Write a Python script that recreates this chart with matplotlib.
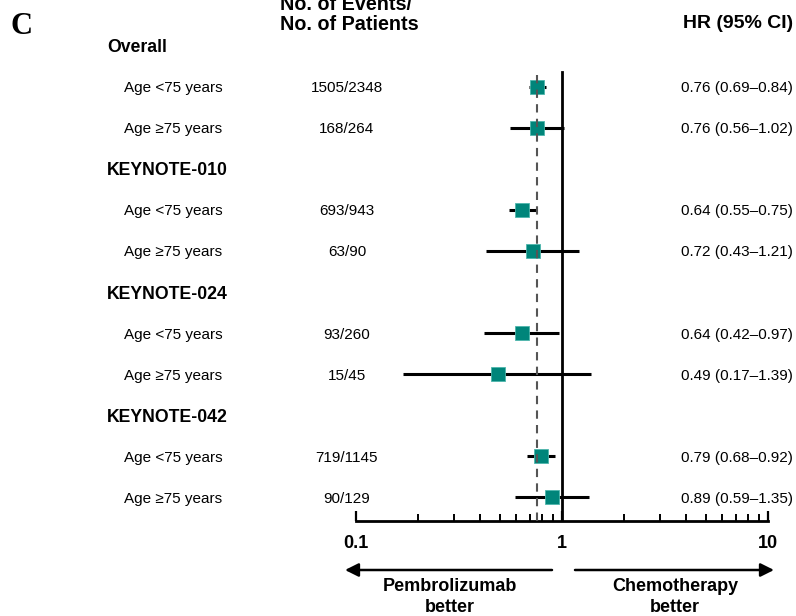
import numpy as np
import matplotlib
matplotlib.use("Agg")
import matplotlib.pyplot as plt
from matplotlib import transforms

plt.rcParams['font.family'] = ['Liberation Sans', 'DejaVu Sans']

# datos
groups = ['Overall', 'KEYNOTE-010', 'KEYNOTE-024', 'KEYNOTE-042']
subgroups = ['Age <75 years', 'Age \u226575 years']
events = ['1505/2348', '168/264', '693/943', '63/90', '93/260', '15/45', '719/1145', '90/129']
hr = [0.76, 0.76, 0.64, 0.72, 0.64, 0.49, 0.79, 0.89]
ci_low = [0.69, 0.56, 0.55, 0.43, 0.42, 0.17, 0.68, 0.59]
ci_high = [0.84, 1.02, 0.75, 1.21, 0.97, 1.39, 0.92, 1.35]
overall_hr = 0.76

W, H = 796, 616
teal = '#00857A'

fig = plt.figure(figsize=(W/100, H/100), dpi=100)
ax = fig.add_axes([356/W, (H-521)/H, (768-356)/W, (521-40)/H])

# filas: cabecera de grupo + 2 subgrupos
y_head = [3*g for g in range(len(groups))]
y_rows = []
for g in range(len(groups)):
    y_rows += [3*g + 1, 3*g + 2]
y_rows = np.array(y_rows)

ax.set_xscale('log')
ax.set_xlim(0.1, 10)
ax.set_ylim(11.585, -0.146)

ax.hlines(y_rows, ci_low, ci_high, color='black', lw=2.2, zorder=2)
ax.plot(hr, y_rows, 's', color=teal, ms=9.5, mec='#4DB6AC', mew=0.6, zorder=3)
ax.plot([1, 1], [0.634, 11.585], color='black', lw=2, zorder=2)
ax.plot([overall_hr, overall_hr], [0.7, 11.585], color='#555555', lw=1.5,
        dashes=(4, 3), zorder=4)

for s in ['top', 'right', 'left']:
    ax.spines[s].set_visible(False)
ax.spines['bottom'].set_linewidth(2)
ax.set_yticks([])
ax.set_xticks([0.1, 1, 10])
ax.set_xticklabels(['0.1', '1', '10'], fontsize=13, fontweight='bold')
ax.set_xticks([m*d for d in [0.1, 1] for m in range(2, 10)], minor=True)
ax.xaxis.set_minor_formatter(plt.NullFormatter())
ax.tick_params(axis='x', which='major', direction='in', length=7, width=1.6, pad=10)
ax.tick_params(axis='x', which='minor', direction='in', length=5, width=1.4)

trans = transforms.blended_transform_factory(fig.transFigure, ax.transData)
for g, name in enumerate(groups):
    ax.text(107/W, y_head[g], name, transform=trans, fontsize=12.7,
            fontweight='bold', va='center_baseline', ha='left', clip_on=False)
for i, y in enumerate(y_rows):
    ax.text(124/W, y, subgroups[i % 2], transform=trans, fontsize=11,
            va='center_baseline', ha='left', clip_on=False)
    ax.text(347/W, y, events[i], transform=trans, fontsize=11,
            va='center_baseline', ha='center', clip_on=False)
    txt = '%.2f (%.2f\u2013%.2f)' % (hr[i], ci_low[i], ci_high[i])
    ax.text(793/W, y, txt, transform=trans, fontsize=11,
            va='center_baseline', ha='right', clip_on=False)

fig.text(10/W, 1-27/H, 'C', family='Liberation Serif', fontweight='bold',
         fontsize=22, va='center', ha='left')
fig.text(280/W, 1-3/H, 'No. of Events/', fontsize=14.2, fontweight='bold',
         va='center_baseline', ha='left')
fig.text(280/W, 1-22/H, 'No. of Patients', fontsize=14.2, fontweight='bold',
         va='center_baseline', ha='left')
fig.text(793/W, 1-21/H, 'HR (95% CI)', fontsize=14, fontweight='bold',
         va='center_baseline', ha='right')

# flechas
ya = 1 - 570/H
arr = dict(arrowstyle='-|>', lw=1.8, color='black', mutation_scale=20, shrinkA=0, shrinkB=0)
ax.annotate('', xy=(345/W, ya), xytext=(552/W, ya), xycoords='figure fraction',
            textcoords='figure fraction', arrowprops=arr)
ax.annotate('', xy=(774/W, ya), xytext=(575/W, ya), xycoords='figure fraction',
            textcoords='figure fraction', arrowprops=arr)
fig.text(450/W, 1-597/H, 'Pembrolizumab\nbetter', fontsize=13, fontweight='bold',
         va='center', ha='center', linespacing=1.25)
fig.text(675/W, 1-597/H, 'Chemotherapy\nbetter', fontsize=13, fontweight='bold',
         va='center', ha='center', linespacing=1.25)

plt.savefig('out.png', dpi=100)
